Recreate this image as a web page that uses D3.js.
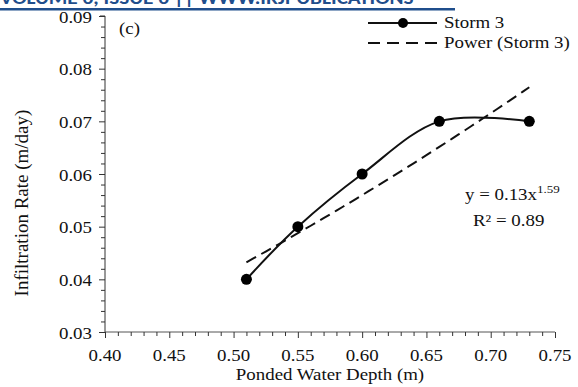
<!DOCTYPE html>
<html>
<head>
<meta charset="utf-8">
<script src="https://cdn.jsdelivr.net/npm/d3@7"></script>
<style>
  body { margin: 0; background: #fff; }
  svg { display: block; }
  svg text { font-family: "Liberation Serif", "Times New Roman", serif; }
  svg text.header { font-family: Carlito, Calibri, "Liberation Sans", sans-serif; }
</style>
</head>
<body>
<div id="chart"></div>
<script>
// Storm 3 measurements
const depth = [0.51, 0.55, 0.60, 0.66, 0.73];   // ponded water depth (m)
const rate = [0.04, 0.05, 0.06, 0.07, 0.07];     // infiltration rate (m/day)
const xTicks = [0.40, 0.45, 0.50, 0.55, 0.60, 0.65, 0.70, 0.75];
const yTicks = [0.03, 0.04, 0.05, 0.06, 0.07, 0.08, 0.09];
const seriesName = "Storm 3";
const trendName = "Power (Storm 3)";

const width = 578, height = 387;
const marginLeft = 105, marginRight = 23, marginTop = 16, marginBottom = 55;
const sx = 1.18; // text in the source is a bit wider than it is tall

// power fit y = a x^b by least squares in log space (as the spreadsheet does)
const lx = depth.map(Math.log), ly = rate.map(Math.log);
const mx = d3.mean(lx), my = d3.mean(ly);
const b = d3.sum(lx, (v, i) => (v - mx) * (ly[i] - my)) / d3.sum(lx, v => (v - mx) ** 2);
const a = Math.exp(my - b * mx);
const ssRes = d3.sum(lx, (v, i) => (ly[i] - (Math.log(a) + b * v)) ** 2);
const ssTot = d3.sum(ly, v => (v - my) ** 2);
const r2 = 1 - ssRes / ssTot;

const x = d3.scaleLinear([0.40, 0.75], [marginLeft, width - marginRight]);
const y = d3.scaleLinear([0.03, 0.09], [height - marginBottom, marginTop]);

const svg = d3.select("#chart").append("svg")
  .attr("width", width)
  .attr("height", height);

// cropped journal header at the very top
svg.append("text")
  .attr("class", "header")
  .attr("x", 0).attr("y", 4)
  .attr("fill", "#1f4e8c")
  .attr("font-weight", "bold")
  .attr("font-size", 18)
  .attr("transform", `scale(1.18,1)`)
  .text("VOLUME 6, ISSUE 6 || WWW.IRJPUBLICATIONS");
svg.append("rect")
  .attr("x", 0).attr("y", 8).attr("width", 455).attr("height", 2.5)
  .attr("fill", "#1f4e8c");

function stretched(g, px, py) {
  return g.append("text").attr("transform", `translate(${px},${py}) scale(${sx},1)`);
}

// y axis
svg.append("g")
  .attr("transform", `translate(${marginLeft},0)`)
  .call(d3.axisLeft(y).tickValues(d3.range(0.03, 0.0901, 0.002)).tickSize(5).tickFormat(""))
  .call(g => g.select(".domain").attr("stroke", "#333").attr("d", `M-5,${y(0.09)}H0V${y(0.03)}`))
  .call(g => g.selectAll(".tick line").attr("stroke", "#333")
    .attr("x2", (d, i) => i % 5 === 0 ? -6 : -4));
yTicks.forEach(v => {
  stretched(svg, marginLeft - 13, y(v) + 6.5)
    .attr("text-anchor", "end").attr("font-size", 16).attr("fill", "#111")
    .text(d3.format(".2f")(v));
});

// x axis
svg.append("g")
  .attr("transform", `translate(0,${y(0.03)})`)
  .call(d3.axisBottom(x).tickValues(d3.range(0.40, 0.7501, 0.01)).tickSize(4).tickFormat(""))
  .call(g => g.select(".domain").attr("stroke", "#555").attr("d", `M${x(0.40)},0H${x(0.75)}`))
  .call(g => g.selectAll(".tick line").attr("stroke", "#333")
    .attr("y2", (d, i) => i % 5 === 0 ? 6 : 4));
xTicks.forEach(v => {
  stretched(svg, x(v), y(0.03) + 29)
    .attr("text-anchor", "middle").attr("font-size", 16).attr("fill", "#111")
    .text(d3.format(".2f")(v));
});

// axis titles
stretched(svg, (x(0.40) + x(0.75)) / 2, 380)
  .attr("text-anchor", "middle").attr("font-size", 16).attr("fill", "#111")
  .text("Ponded Water Depth (m)");
svg.append("text")
  .attr("transform", `translate(28,203) rotate(-90)`)
  .attr("text-anchor", "middle").attr("font-size", 19).attr("fill", "#111")
  .text("Infiltration Rate (m/day)");

// panel label
stretched(svg, 119, 34).attr("font-size", 16).attr("fill", "#111").text("(c)");

// power trendline
const fitX = d3.range(depth[0], depth[depth.length - 1] + 1e-9, 0.005);
svg.append("path")
  .datum(fitX)
  .attr("fill", "none")
  .attr("stroke", "#111")
  .attr("stroke-width", 2)
  .attr("stroke-dasharray", "11,6")
  .attr("d", d3.line().x(d => x(d)).y(d => y(a * Math.pow(d, b))));

// smoothed data line
svg.append("path")
  .datum(depth.map((d, i) => [d, rate[i]]))
  .attr("fill", "none")
  .attr("stroke", "#111")
  .attr("stroke-width", 2)
  .attr("d", d3.line().curve(d3.curveCardinal.tension(0)).x(d => x(d[0])).y(d => y(d[1])));

svg.append("g")
  .selectAll("circle")
  .data(depth)
  .join("circle")
  .attr("cx", d => x(d))
  .attr("cy", (d, i) => y(rate[i]))
  .attr("r", 5.5)
  .attr("fill", "#000");

// equation
const eq = stretched(svg, 465, 200).attr("font-size", 16).attr("fill", "#111");
eq.append("tspan").text(`y = ${a.toFixed(2)}x`);
eq.append("tspan").attr("font-size", 11).attr("dy", -7).text(b.toFixed(2));
stretched(svg, 473, 226).attr("font-size", 16).attr("fill", "#111")
  .text(`R² = ${r2.toFixed(2)}`);

// legend
const leg = svg.append("g");
leg.append("line").attr("x1", 368).attr("x2", 437).attr("y1", 23).attr("y2", 23)
  .attr("stroke", "#111").attr("stroke-width", 2);
leg.append("circle").attr("cx", 403).attr("cy", 23).attr("r", 5).attr("fill", "#000");
stretched(leg, 444, 28).attr("font-size", 16).attr("fill", "#111").text(seriesName);
leg.append("line").attr("x1", 368).attr("x2", 437).attr("y1", 43).attr("y2", 43)
  .attr("stroke", "#111").attr("stroke-width", 2).attr("stroke-dasharray", "12,7");
stretched(leg, 444, 48).attr("font-size", 16).attr("fill", "#111").text(trendName);
</script>
</body>
</html>
